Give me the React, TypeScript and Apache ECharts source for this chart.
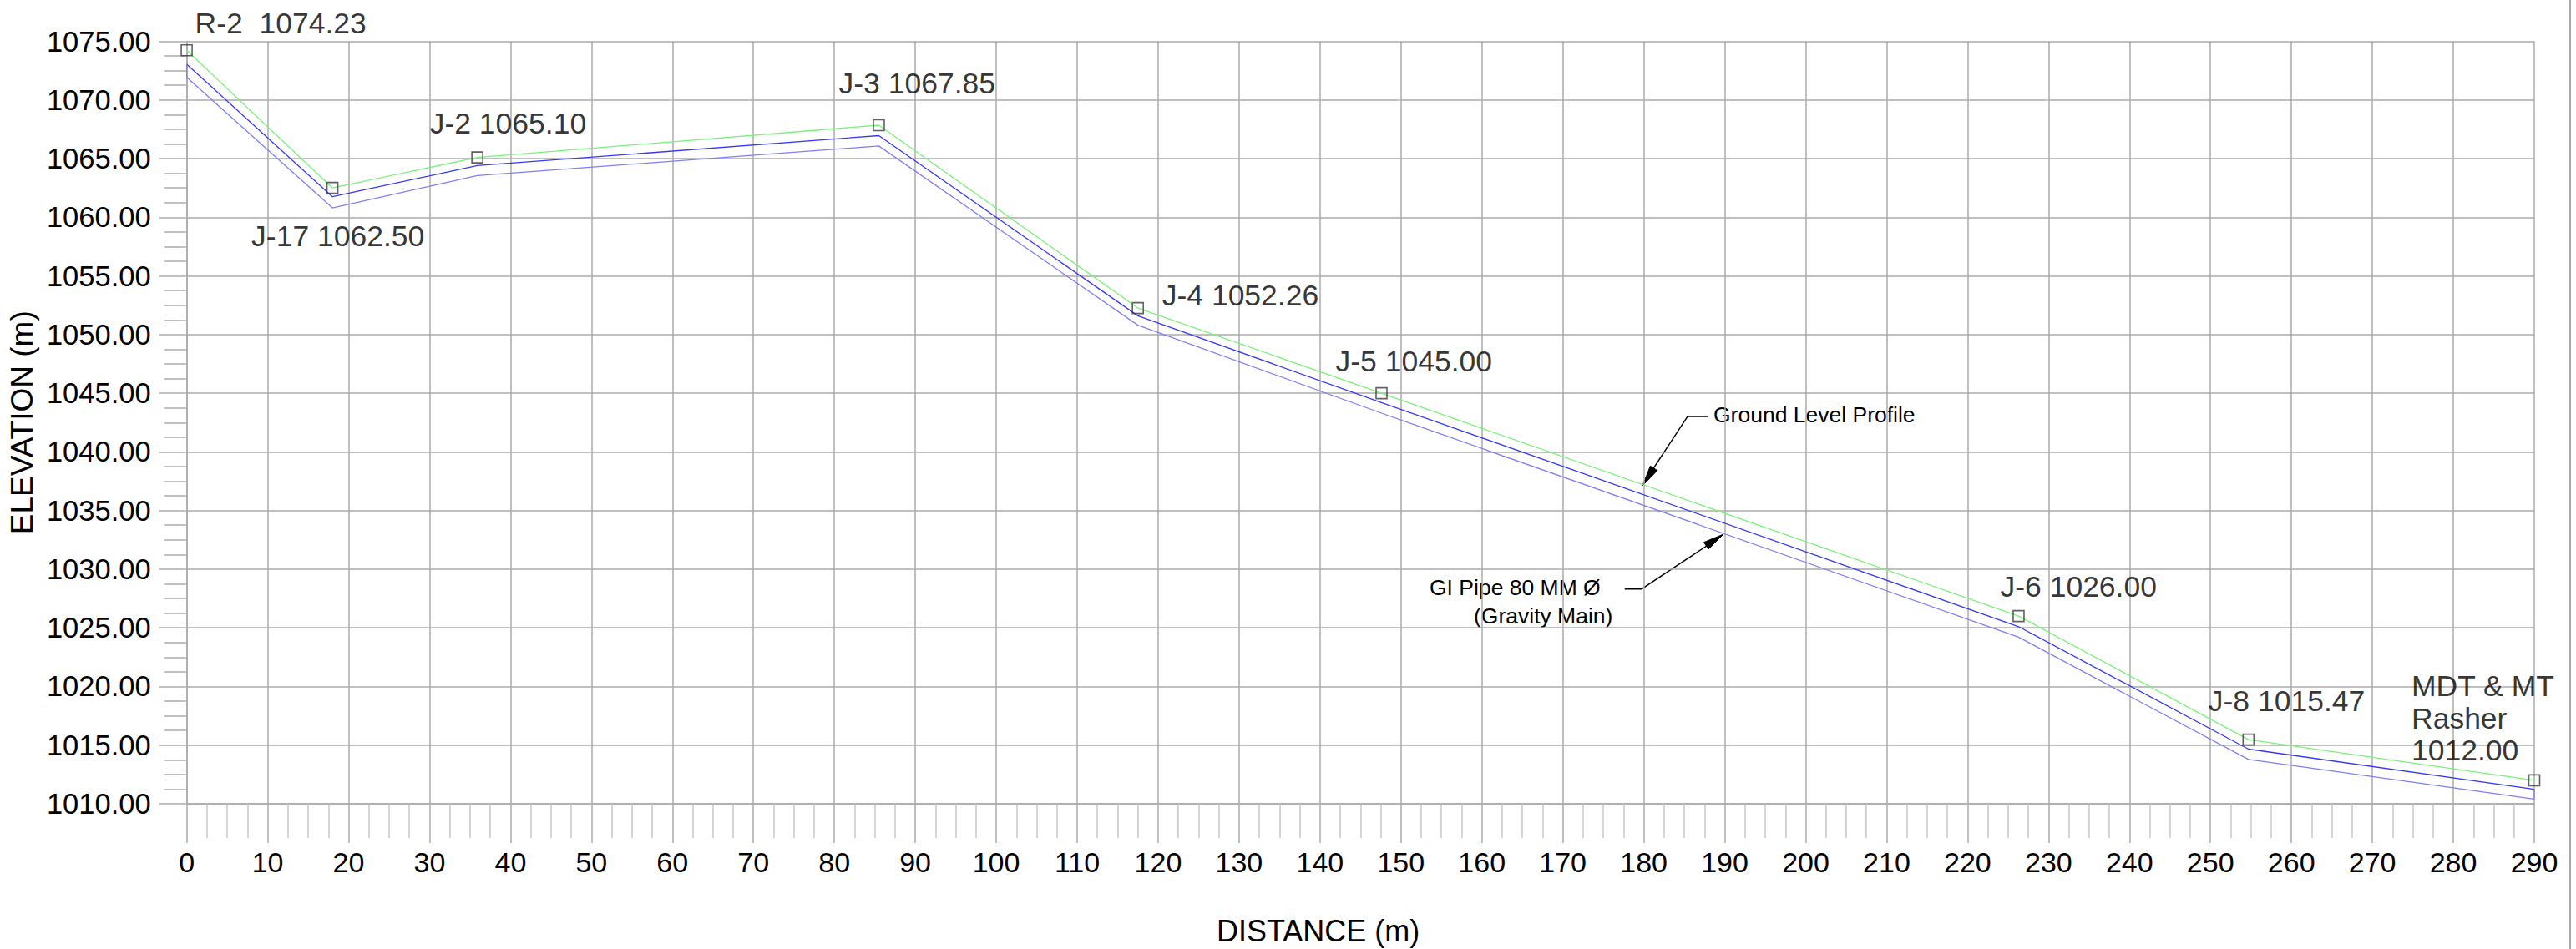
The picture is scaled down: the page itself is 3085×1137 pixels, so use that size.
import React, { useEffect, useRef } from "react";
import * as echarts from "echarts";

// ---- data ----
const nodeNames = ["R-2 ", "J-17", "J-2", "J-3", "J-4", "J-5", "J-6", "J-8", "MDT & MT\nRasher\n"];
const nodeDistance = [0, 18.0, 35.9, 85.5, 117.5, 147.6, 226.3, 254.7, 290];
const groundLevel = [1074.23, 1062.5, 1065.1, 1067.85, 1052.26, 1045.0, 1026.0, 1015.47, 1012.0];
const pipeTop = [1073.05, 1061.75, 1064.4, 1066.96, 1051.6, 1044.2, 1025.1, 1014.66, 1011.24];
const pipeBottom = [1071.94, 1060.8, 1063.55, 1066.08, 1050.8, 1043.3, 1024.2, 1013.78, 1010.4];
const xTicks = { min: 0, max: 290, interval: 10 };
const yTicks = { min: 1010, max: 1075, interval: 5 };

// ---- layout (label offsets from marker centre, px) ----
const labelOffsets: [number, number][] = [
  [10, -32],
  [-97, 58],
  [-57, -41],
  [-48, -50],
  [29, -15],
  [-55, -38],
  [-22, -35],
  [-48, -46],
  [-147, -74],
];

const FONT = "'Liberation Sans', Arial, sans-serif";

export default function App() {
  const ref = useRef<HTMLDivElement>(null);
  useEffect(() => {
    if (!ref.current) return;
    const chart = echarts.init(ref.current, undefined, { renderer: "svg" });
    const ground = nodeDistance.map((d, i) => [d, groundLevel[i]]);
    const top = nodeDistance.map((d, i) => [d, pipeTop[i]]);
    const last = nodeDistance.length - 1;
    const bottom = [
      [nodeDistance[0], pipeTop[0]],
      ...nodeDistance.map((d, i) => [d, pipeBottom[i]]),
      [nodeDistance[last], pipeTop[last]],
    ];
    const gridColor = "#ababab";
    chart.setOption({
      animation: false,
      backgroundColor: "#ffffff",
      textStyle: { fontFamily: FONT },
      grid: { left: 218.5, top: 49.5, width: 2816.5, height: 913.5, containLabel: false },
      xAxis: {
        type: "value",
        min: xTicks.min,
        max: xTicks.max,
        interval: xTicks.interval,
        axisLine: { show: true, lineStyle: { color: gridColor, width: 1.5 } },
        axisTick: { show: true, length: 47, lineStyle: { color: gridColor, width: 1.5 } },
        minorTick: { show: true, splitNumber: 4, length: 41, lineStyle: { color: "#c8c8c8", width: 1.5 } },
        splitLine: { show: true, lineStyle: { color: gridColor, width: 1.5 } },
        axisLabel: { color: "#000", fontSize: 34, fontFamily: FONT, margin: 53 },
      },
      yAxis: {
        type: "value",
        min: yTicks.min,
        max: yTicks.max,
        interval: yTicks.interval,
        name: "ELEVATION (m)",
        nameLocation: "middle",
        nameGap: 164,
        nameRotate: 90,
        nameTextStyle: { color: "#000", fontSize: 37, fontFamily: FONT },
        axisLine: { show: true, lineStyle: { color: gridColor, width: 1.5 } },
        axisTick: { show: true, length: 33, lineStyle: { color: gridColor, width: 1.5 } },
        minorTick: { show: true, splitNumber: 4, length: 26.5, lineStyle: { color: gridColor, width: 1.5 } },
        splitLine: { show: true, lineStyle: { color: gridColor, width: 1.5 } },
        axisLabel: {
          color: "#000",
          fontSize: 34.5,
          fontFamily: FONT,
          margin: 43,
          formatter: (v: number) => v.toFixed(2),
        },
      },
      series: [
        {
          name: "Ground Level",
          type: "line",
          data: ground,
          symbol: "none",
          lineStyle: { color: "#7af27a", width: 1.3 },
          z: 3,
        },
        {
          name: "Pipe Top",
          type: "line",
          data: top,
          symbol: "none",
          lineStyle: { color: "#3838f5", width: 1.3 },
          z: 3,
        },
        {
          name: "Pipe Bottom",
          type: "line",
          data: bottom,
          symbol: "none",
          lineStyle: { color: "#7f7ff5", width: 1.3 },
          z: 3,
        },
        {
          name: "Nodes",
          type: "scatter",
          symbol: "rect",
          symbolSize: 13,
          z: 4,
          itemStyle: { color: "rgba(255,255,255,0)", borderColor: "#3a3a3a", borderWidth: 1.6 },
          data: nodeDistance.map((d, i) => ({
            value: [d, groundLevel[i]],
            name: nodeNames[i],
            label: {
              show: true,
              position: "inside",
              align: "left",
              verticalAlign: "middle",
              offset: labelOffsets[i],
              formatter: () => `${nodeNames[i]} ${groundLevel[i].toFixed(2)}`.replace("\n ", "\n"),
              color: "#000",
              fontSize: 35.5,
              fontFamily: FONT,
              lineHeight: 38.5,
            },
          })),
        },
      ],
      graphic: [
        {
          type: "text",
          left: 1457,
          top: 1097,
          style: { text: "DISTANCE (m)", fill: "#000", font: `36px ${FONT}` },
        },
        {
          type: "text",
          x: 2052,
          y: 497,
          style: {
            text: "Ground Level Profile",
            fill: "#000",
            font: `26.5px ${FONT}`,
            verticalAlign: "middle",
          },
        },
        {
          type: "polyline",
          shape: { points: [[2045, 499], [2021, 499], [1975, 569]] },
          style: { stroke: "#000", lineWidth: 1.4, fill: "none" },
        },
        {
          type: "polygon",
          shape: { points: [[1967, 582], [1984.8, 563.7], [1976.4, 558.3]] },
          style: { fill: "#000", stroke: "#000", lineWidth: 1 },
        },
        {
          type: "text",
          x: 1712,
          y: 704,
          style: {
            text: "GI Pipe 80 MM Ø",
            fill: "#000",
            font: `26.5px ${FONT}`,
            verticalAlign: "middle",
          },
        },
        {
          type: "text",
          x: 1765,
          y: 738,
          style: {
            text: "(Gravity Main)",
            fill: "#000",
            font: `26.5px ${FONT}`,
            verticalAlign: "middle",
          },
        },
        {
          type: "polyline",
          shape: { points: [[1945.7, 705.7], [1966, 705.7], [2050, 650]] },
          style: { stroke: "#000", lineWidth: 1.4, fill: "none" },
        },
        {
          type: "polygon",
          shape: { points: [[2064, 640], [2046.1, 658.0], [2040.5, 649.7]] },
          style: { fill: "#000", stroke: "#000", lineWidth: 1 },
        },
        {
          type: "line",
          shape: { x1: 3078, y1: 0, x2: 3078, y2: 1137 },
          style: { stroke: "#8a8a8a", lineWidth: 1.5 },
        },
      ],
    });
    return () => chart.dispose();
  }, []);
  return (
    <div
      ref={ref}
      style={{ position: "absolute", left: 0, top: 0, width: 3085, height: 1137, background: "#fff" }}
    />
  );
}
